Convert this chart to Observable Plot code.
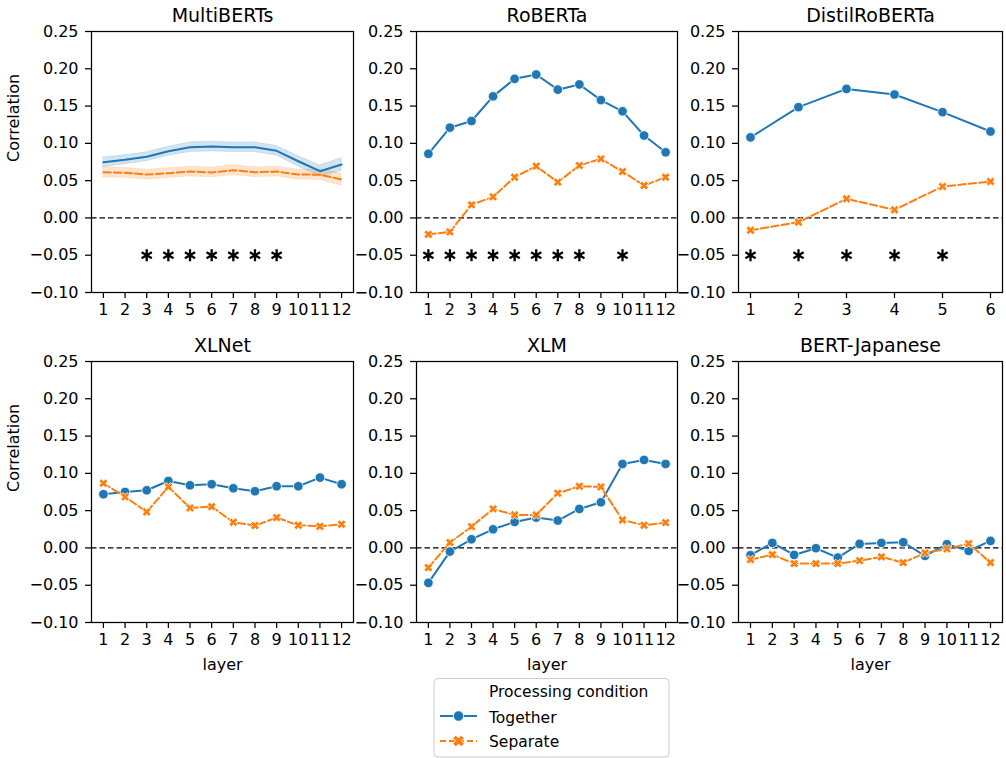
<!DOCTYPE html>
<html>
<head>
<meta charset="utf-8">
<script src="https://cdn.jsdelivr.net/npm/d3@7"></script>
<script src="https://cdn.jsdelivr.net/npm/@observablehq/plot@0.6"></script>
<style>
  html, body { margin: 0; padding: 0; background: white; }
  #fig { position: relative; width: 1006px; height: 758px; overflow: hidden; font-family: "DejaVu Sans", sans-serif; }
  #fig svg { position: absolute; }
</style>
</head>
<body>
<div id="fig"></div>
<script>
// ---------------- data ----------------
const layers12 = [1, 2, 3, 4, 5, 6, 7, 8, 9, 10, 11, 12];
const layers6 = [1, 2, 3, 4, 5, 6];
const yTicks = [-0.10, -0.05, 0.00, 0.05, 0.10, 0.15, 0.20, 0.25];
const conditions = ["Together", "Separate"];
const legendTitle = "Processing condition";

const multiTogether = [0.0747, 0.0780, 0.0820, 0.0895, 0.0948, 0.0957, 0.0948, 0.0948, 0.0900, 0.0760, 0.0627, 0.0716];
const multiTogetherCI = [0.0065, 0.006, 0.006, 0.006, 0.0065, 0.0065, 0.0065, 0.0065, 0.0065, 0.007, 0.0075, 0.0085];
const multiSeparate = [0.0613, 0.0605, 0.0582, 0.0600, 0.0622, 0.0610, 0.0640, 0.0613, 0.0622, 0.0582, 0.0580, 0.0515];
const multiSeparateCI = [0.0070, 0.0065, 0.0065, 0.0065, 0.0065, 0.0065, 0.0065, 0.0065, 0.0065, 0.0065, 0.007, 0.008];
const multiStars = [3, 4, 5, 6, 7, 8, 9];

const robertaTogether = [0.086, 0.121, 0.130, 0.163, 0.1865, 0.1923, 0.172, 0.179, 0.158, 0.143, 0.1105, 0.088];
const robertaSeparate = [-0.022, -0.0187, 0.0176, 0.0283, 0.0546, 0.0694, 0.048, 0.0703, 0.0792, 0.0622, 0.0435, 0.0546];
const robertaStars = [1, 2, 3, 4, 5, 6, 7, 8, 10];

const distilTogether = [0.108, 0.1485, 0.173, 0.1655, 0.1418, 0.1159];
const distilSeparate = [-0.0165, -0.0057, 0.0256, 0.0109, 0.0421, 0.0488];
const distilStars = [1, 2, 3, 4, 5];

const xlnetTogether = [0.072, 0.075, 0.0773, 0.0898, 0.084, 0.0854, 0.080, 0.076, 0.0827, 0.0827, 0.0943, 0.0854];
const xlnetSeparate = [0.0867, 0.0684, 0.0483, 0.0818, 0.0536, 0.0554, 0.0344, 0.030, 0.0407, 0.0304, 0.029, 0.0317];

const xlmTogether = [-0.0469, -0.0049, 0.0116, 0.025, 0.0349, 0.0407, 0.0367, 0.0523, 0.0612, 0.1126, 0.118, 0.1126];
const xlmSeparate = [-0.0264, 0.0072, 0.0286, 0.0523, 0.0443, 0.0443, 0.0733, 0.0827, 0.0818, 0.0375, 0.0304, 0.034];

const bertjaTogether = [-0.0098, 0.0067, -0.0094, -0.0004, -0.013, 0.0054, 0.0067, 0.0076, -0.0107, 0.005, -0.004, 0.0094];
const bertjaSeparate = [-0.0156, -0.009, -0.021, -0.021, -0.021, -0.017, -0.012, -0.0197, -0.0067, -0.0013, 0.0058, -0.0197];

// ---------------- styling ----------------
const BLUE = "#1f77b4", ORANGE = "#ff7f0e";
const frameL = [91, 416, 738], frameR = [353, 677, 1002];
const frameT = [31, 361], frameB = [292, 622];

const symbolX = {
  draw(context, size) {
    const R = Math.sqrt(size / Math.PI);
    const a = R * 1.0, w = R * 0.36, s = Math.SQRT1_2;
    const pts = [[w, a], [w, w], [a, w], [a, -w], [w, -w], [w, -a], [-w, -a], [-w, -w], [-a, -w], [-a, w], [-w, w], [-w, a]]
      .map(([x, y]) => [(x - y) * s, (x + y) * s]);
    context.moveTo(pts[0][0], pts[0][1]);
    for (let i = 1; i < pts.length; i++) context.lineTo(pts[i][0], pts[i][1]);
    context.closePath();
  }
};

const fmtY = d => (d < 0 ? "\u2212" : "") + Math.abs(d).toFixed(2);

const panels = [
  {name: "MultiBERTs", layers: layers12, t: multiTogether, s: multiSeparate, tci: multiTogetherCI, sci: multiSeparateCI, stars: multiStars, col: 0, row: 0},
  {name: "RoBERTa", layers: layers12, t: robertaTogether, s: robertaSeparate, stars: robertaStars, col: 1, row: 0},
  {name: "DistilRoBERTa", layers: layers6, t: distilTogether, s: distilSeparate, stars: distilStars, col: 2, row: 0},
  {name: "XLNet", layers: layers12, t: xlnetTogether, s: xlnetSeparate, stars: [], col: 0, row: 1},
  {name: "XLM", layers: layers12, t: xlmTogether, s: xlmSeparate, stars: [], col: 1, row: 1},
  {name: "BERT-Japanese", layers: layers12, t: bertjaTogether, s: bertjaSeparate, stars: [], col: 2, row: 1}
];

const fig = document.getElementById("fig");
const mL = 70, mR = 4, mT = 34, mB = 58;

for (const p of panels) {
  const fl = frameL[p.col], fr = frameR[p.col], ft = frameT[p.row], fb = frameB[p.row];
  const n = p.layers.length, pad = 0.05 * (n - 1);
  const data = p.layers.map((l, i) => ({layer: l, t: p.t[i], s: p.s[i],
    tlo: p.tci ? p.t[i] - p.tci[i] : null, thi: p.tci ? p.t[i] + p.tci[i] : null,
    slo: p.sci ? p.s[i] - p.sci[i] : null, shi: p.sci ? p.s[i] + p.sci[i] : null}));
  const marks = [];
  if (p.tci) {
    marks.push(Plot.areaY(data, {x: "layer", y1: "slo", y2: "shi", fill: ORANGE, fillOpacity: 0.2, stroke: ORANGE, strokeOpacity: 0.15, strokeWidth: 1}));
    marks.push(Plot.areaY(data, {x: "layer", y1: "tlo", y2: "thi", fill: BLUE, fillOpacity: 0.2, stroke: BLUE, strokeOpacity: 0.15, strokeWidth: 1}));
  }
  marks.push(Plot.ruleY([0], {stroke: "black", strokeWidth: 1.2, strokeDasharray: "5.5,3"}));
  marks.push(Plot.line(data, {x: "layer", y: "t", stroke: BLUE, strokeWidth: 2}));
  marks.push(Plot.line(data, {x: "layer", y: "s", stroke: ORANGE, strokeWidth: 2, strokeDasharray: "7.5,3"}));
  if (!p.tci) {
    marks.push(Plot.dot(data, {x: "layer", y: "t", r: 4.8, fill: BLUE, stroke: "white", strokeWidth: 0.8}));
    marks.push(Plot.dot(data, {x: "layer", y: "s", r: 4.6, symbol: symbolX, fill: ORANGE, stroke: "white", strokeWidth: 0.8}));
  }
  if (p.stars.length) {
    marks.push(Plot.dot(p.stars, {x: d => d, y: () => -0.05, symbol: "asterisk", r: 5.6, stroke: "black", strokeWidth: 2.3}));
  }
  marks.push(Plot.frame({stroke: "black", strokeWidth: 1.25}));
  marks.push(Plot.axisY({ticks: yTicks, tickFormat: fmtY, tickSize: 6, tickPadding: 7, strokeWidth: 1.25, label: null}));
  marks.push(Plot.axisX({ticks: p.layers, tickFormat: d => String(d), tickSize: 6, tickPadding: 5, strokeWidth: 1.25, label: null}));
  marks.push(Plot.text([p.name], {text: d => d, frameAnchor: "top", dy: -10, lineAnchor: "bottom", fontSize: 19}));
  if (p.col === 0) {
    marks.push(Plot.text(["Correlation"], {text: d => d, frameAnchor: "left", rotate: -90, dx: -78, lineAnchor: "middle", fontSize: 16}));
  }
  if (p.row === 1) {
    marks.push(Plot.text(["layer"], {text: d => d, frameAnchor: "bottom", dy: 47, lineAnchor: "bottom", fontSize: 16}));
  }
  const chart = Plot.plot({
    width: fr - fl + mL + mR,
    height: fb - ft + mT + mB,
    marginLeft: mL, marginRight: mR, marginTop: mT, marginBottom: mB,
    x: {type: "linear", domain: [1 - pad, n + pad]},
    y: {type: "linear", domain: [-0.10, 0.25]},
    style: {fontFamily: "DejaVu Sans", fontSize: "16px", color: "black", background: "transparent", overflow: "visible"},
    marks
  });
  chart.style.left = (fl - mL) + "px";
  chart.style.top = (ft - mT) + "px";
  fig.appendChild(chart);
}

// ---------------- legend ----------------
const lg = d3.select(fig).append("svg")
  .attr("width", 238).attr("height", 80)
  .style("left", "433px").style("top", "678px")
  .style("font-family", "DejaVu Sans").style("font-size", "15.5px");
lg.append("rect").attr("x", 1).attr("y", 0.5).attr("width", 235).attr("height", 78.5).attr("rx", 4)
  .attr("fill", "white").attr("stroke", "#cccccc").attr("stroke-width", 1);
lg.append("text").attr("x", 56).attr("y", 19).attr("fill", "black").text(legendTitle);
const rows = [{y: 38, ty: 45, color: BLUE, dash: null, label: conditions[0]}, {y: 63, ty: 69, color: ORANGE, dash: "6,3", label: conditions[1]}];
rows.forEach((r, i) => {
  lg.append("line").attr("x1", 7).attr("x2", 44).attr("y1", r.y).attr("y2", r.y)
    .attr("stroke", r.color).attr("stroke-width", 2).attr("stroke-dasharray", r.dash);
  if (i === 0) {
    lg.append("circle").attr("cx", 25.5).attr("cy", r.y).attr("r", 5.2).attr("fill", r.color).attr("stroke", "white").attr("stroke-width", 0.8);
  } else {
    const path = d3.path();
    symbolX.draw(path, Math.PI * 6 * 6);
    lg.append("path").attr("d", path.toString()).attr("transform", `translate(25.5,${r.y})`)
      .attr("fill", r.color).attr("stroke", "white").attr("stroke-width", 0.8);
  }
  lg.append("text").attr("x", 56).attr("y", r.ty).attr("fill", "black").text(r.label);
});
</script>
</body>
</html>
